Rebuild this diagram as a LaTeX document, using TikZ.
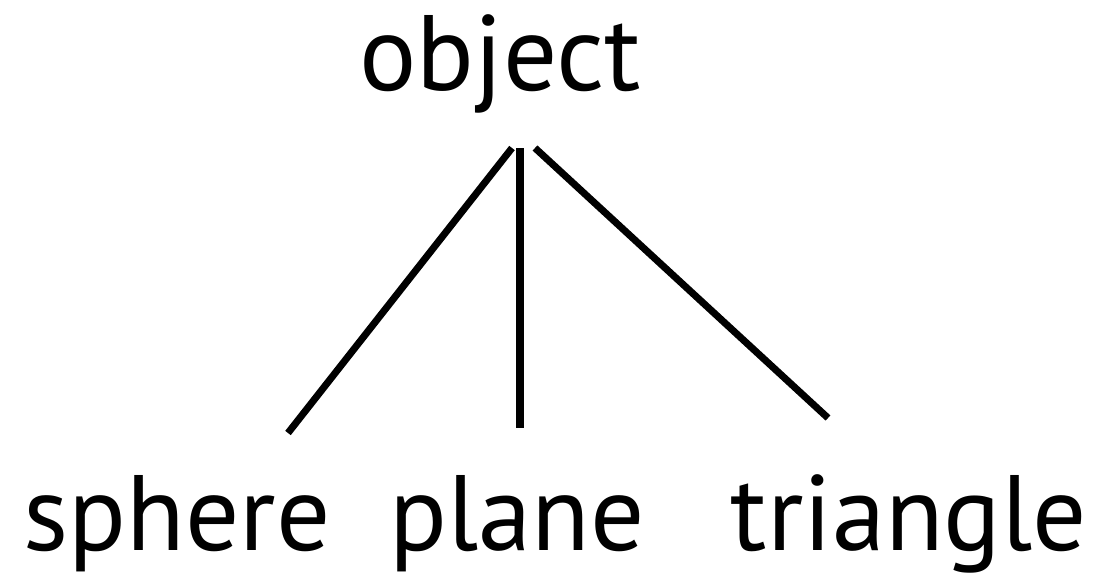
\documentclass[tikz,border=0pt]{standalone}
\usepackage{fontspec}
\setmainfont{PT Sans}
\begin{document}
\begin{tikzpicture}[x=0.02cm,y=-0.02cm,
  lbl/.style={anchor=base,inner sep=0pt,font=\fontsize{61}{64}\selectfont},
  edge/.style={line width=4pt,black}]
\useasboundingbox (0,0) rectangle (1110,579);
\node[lbl] (obj) at (500,90) {object};
\node[lbl] (sph) at (177,550) {sphere};
\node[lbl] (pla) at (517,550) {plane};
\node[lbl] (tri) at (909,550) {triangle};
\coordinate (oL) at (512,148);
\coordinate (oM) at (520,148);
\coordinate (oR) at (535,148);
\coordinate (sT) at (288,433);
\coordinate (pT) at (520,428);
\coordinate (tT) at (828,418);
\draw[edge] (oL) -- (sT);
\draw[edge] (oM) -- (pT);
\draw[edge] (oR) -- (tT);
\end{tikzpicture}
\end{document}
